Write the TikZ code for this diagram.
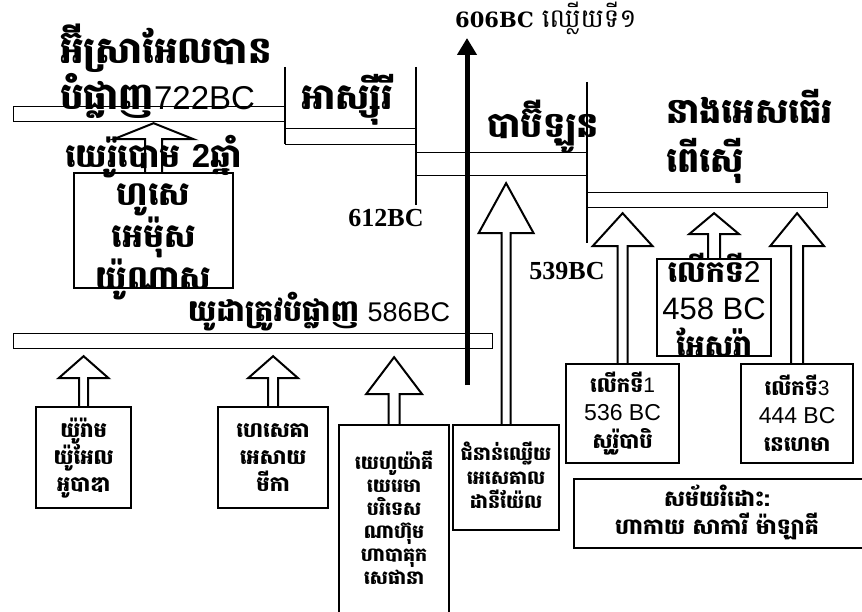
\documentclass[tikz,border=0pt]{standalone}
\usepackage{fontspec}
\setmainfont{Liberation Sans}
\newfontfamily\km[Script=Khmer]{Battambang}
\newfontfamily\tms{Liberation Serif}
\newfontfamily\dvs{DejaVu Serif}
\usetikzlibrary{calc,arrows.meta}

\newcommand{\blockup}[6]{%
  \draw[blockarrow] let \p1=(#1.north), \p2=(#2.south) in
    (\x1-#6pt,\y1) -- (\x1-#6pt,\y2-#3pt-#4pt) -- (\x1-#5pt,\y2-#3pt-#4pt) --
    (\x1,\y2-#3pt) -- (\x1+#5pt,\y2-#3pt-#4pt) -- (\x1+#6pt,\y2-#3pt-#4pt) -- (\x1+#6pt,\y1);}

\begin{document}
\begin{tikzpicture}[x=1pt,y=-1pt,
    bar/.style={draw,line width=1.2pt,anchor=north west,inner sep=0pt},
    box/.style={draw,line width=2.2pt,anchor=north west,inner sep=0pt},
    txt/.style={inner sep=0pt,align=center},
    divider/.style={line width=2.6pt},
    blockarrow/.style={line width=2pt,line join=miter}]

  \useasboundingbox (0,0) rectangle (862,612);

  \node[bar,minimum width=272,minimum height=15] (IS) at (13,106) {};
  \node[bar,minimum width=131,minimum height=16] (AS) at (285,128) {};
  \node[bar,minimum width=171,minimum height=23] (BA) at (416,152) {};
  \node[bar,minimum width=240,minimum height=15] (PE) at (587,192) {};
  \node[bar,minimum width=479,minimum height=15] (JU) at (13,333) {};

  \draw[divider] (285,67) -- (285,144);
  \draw[divider] (416,67) -- (416,205);
  \draw[divider] (587,82) -- (587,243);

  \coordinate (T0) at (467,385);
  \coordinate (T1) at (467,38);
  \draw[line width=5pt,-{Triangle[length=17pt,width=19pt]}] (T0) -- (T1);

  \node[txt,align=left,anchor=base west,font=\bfseries\fontsize{37}{38}\selectfont] (IL) at (60,110)
    {{\km អ៊ីស្រាអែលបាន}\\{\km បំផ្លាញ}{\mdseries\fontsize{33}{38}\selectfont 722BC}};
  \node[txt,anchor=base,font=\km\bfseries\fontsize{36}{38}\selectfont] (AL) at (347,110) {អាស្ស៊ីរី};
  \node[txt,anchor=base,font=\km\bfseries\fontsize{35}{38}\selectfont] (BL) at (543,138) {បាប៊ីឡូន};
  \node[txt,align=left,anchor=base west,font=\km\bfseries\fontsize{35}{49}\selectfont] (PL) at (666,173)
    {នាងអេសធើរ\\ពើស៊ើ};
  \node[txt,anchor=base,font=\fontsize{30}{30}\selectfont] (JL) at (319,322)
    {{\km\bfseries យូដាត្រូវបំផ្លាញ} {\fontsize{27}{30}\selectfont 586BC}};
  \node[txt,anchor=base west] (FL) at (455,28)
    {{\dvs\bfseries\fontsize{21}{24}\selectfont 606BC}\hspace{8pt}{\km\fontsize{26}{26}\selectfont ឈ្លើយទី១}};
  \node[txt,anchor=base,font=\tms\bfseries\fontsize{26}{28}\selectfont] (L612) at (386,227) {612BC};
  \node[txt,anchor=base,font=\tms\bfseries\fontsize{26}{28}\selectfont] (L539) at (567,280) {539BC};

  \node[box,minimum width=159,minimum height=115] (JE) at (73,172) {};
  \node[box,minimum width=95,minimum height=101] (JO) at (35,406) {};
  \node[box,minimum width=110,minimum height=101] (HE) at (217,406) {};
  \node[box,minimum width=110,minimum height=200] (JK) at (338,424) {};
  \node[box,minimum width=106,minimum height=105] (EX) at (452,424) {};
  \node[box,minimum width=113,minimum height=99] (R1) at (565,363) {};
  \node[box,minimum width=114,minimum height=97] (R2) at (656,258) {};
  \node[box,minimum width=112,minimum height=99] (R3) at (740,363) {};
  \node[box,minimum width=300,minimum height=69] (RE) at (573,478) {};

  \node[txt,anchor=base,font=\km\bfseries\fontsize{33}{38}\selectfont] (JEt) at (JE.south)
    {យេរ៉ូបោម {\rmfamily 2}ឆ្នាំ\\ហូសេ\\អេម៉ុស\\យ៉ូណាស};
  \node[txt,font=\km\bfseries\fontsize{21}{27}\selectfont] (JOt) at (JO.center)
    {យ៉ូរ៉ាម\\យ៉ូអែល\\អូបាឌា};
  \node[txt,font=\km\bfseries\fontsize{21}{27}\selectfont] (HEt) at (HE.center)
    {ហេសេគា\\អេសាយ\\មីកា};
  \node[txt,font=\km\bfseries\fontsize{19}{23}\selectfont] (JKt) at ($(JK.center)+(0,-7)$)
    {យេហូយ៉ាគី\\យេរេមា\\បរិទេស\\ណាហ៊ុម\\ហាបាគុក\\សេផានា};
  \node[txt,font=\km\bfseries\fontsize{19}{24}\selectfont] (EXt) at ($(EX.center)+(0,-2)$)
    {ជំនាន់ឈ្លើយ\\អេសេគាល\\ដានីយ៉ែល};
  \node[txt,font=\km\bfseries\fontsize{21}{28}\selectfont] (R1t) at (R1.center)
    {លើកទី{\mdseries\rmfamily 1}\\{\mdseries\rmfamily\fontsize{23}{28}\selectfont 536 BC}\\សូរ៉ូបាបិ};
  \node[txt,font=\km\bfseries\fontsize{30}{37}\selectfont] (R2t) at ($(R2.center)+(0,-3)$)
    {លើកទី{\mdseries\rmfamily 2}\\{\mdseries\rmfamily\fontsize{31}{37}\selectfont 458 BC}\\អែសរ៉ា};
  \node[txt,font=\km\bfseries\fontsize{21}{28}\selectfont] (R3t) at (R3.center)
    {លើកទី{\mdseries\rmfamily 3}\\{\mdseries\rmfamily\fontsize{23}{28}\selectfont 444 BC}\\នេហេមា};
  \node[txt,font=\km\bfseries\fontsize{22}{28}\selectfont] (REt) at (717,512)
    {សម័យរំដោះ:\\ហាកាយ សាការី ម៉ាឡាគី};

  \blockup{JE}{IS}{1}{16}{40}{8.5}
  \blockup{JO}{JU}{7}{22}{25}{4.5}
  \blockup{HE}{JU}{7}{22}{25}{5}
  \blockup{JK}{JU}{8}{37}{28}{5.5}
  \blockup{EX}{BA}{7}{50}{27.5}{4.5}
  \blockup{R1}{PE}{5}{33}{30}{5}
  \blockup{R2}{PE}{5}{21}{25}{6}
  \blockup{R3}{PE}{5}{33}{27}{6}

\end{tikzpicture}
\end{document}
